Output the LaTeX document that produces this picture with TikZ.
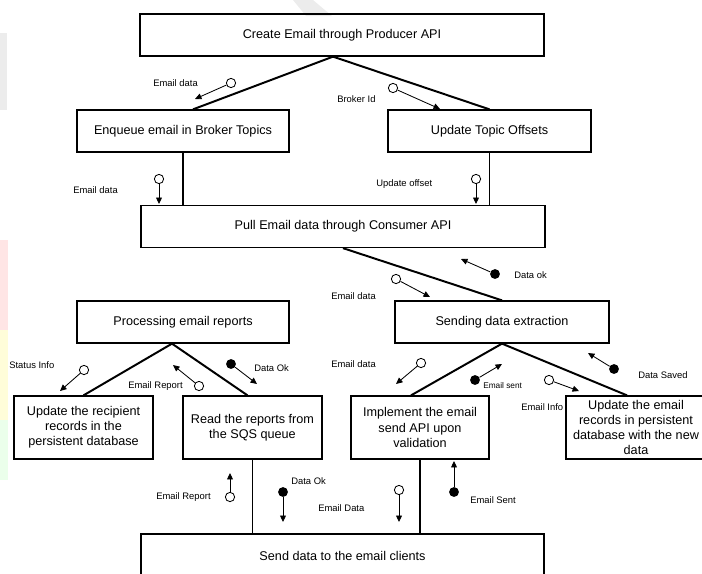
\documentclass[tikz,border=0pt]{standalone}
\usepackage{fontspec}
\setmainfont{Liberation Sans}
\usepackage{tikz}
\usetikzlibrary{calc}
\usetikzlibrary{arrows.meta}

\tikzset{
  box/.style={draw,line width=0.9pt,minimum height=1.05cm,inner sep=1pt,align=center,font=\fontsize{9}{10.8}\selectfont},
  tallbox/.style={box,minimum width=3.475cm,minimum height=1.575cm},
  link/.style={line width=1.4pt},
  flow/.style={line width=0.6pt,-{Triangle[length=4.6pt,width=4.2pt]}},
  opendot/.style={circle,draw,line width=0.6pt,fill=white,minimum size=6.6pt,inner sep=0pt},
  fulldot/.style={circle,fill=black,minimum size=7pt,inner sep=0pt},
  lbl/.style={anchor=west,inner sep=0pt,font=\fontsize{6.7}{8}\selectfont},
  tinylbl/.style={lbl,font=\fontsize{5.9}{7}\selectfont},
}

\begin{document}
\begin{tikzpicture}[x=0.025cm,y=-0.025cm]
      \clip (0,0) rectangle (702,573);
      % faint marks behind the chart
      \fill[gray!15] (293,0) -- (313,0) -- (332,16) -- (306,16) -- cycle;
      \fill[gray!15] (0,33) rectangle (7,110);
      \fill[red!10] (0,240) rectangle (8,330);
      \fill[yellow!15] (0,330) rectangle (8,420);
      \fill[green!8] (0,420) rectangle (8,480);

      \node[box,minimum width=10.1cm] (create) at (342,35) {Create Email through Producer API};
      \node[box,minimum width=5.3cm] (enqueue) at (183,131) {Enqueue email in Broker Topics};
      \node[box,minimum width=5.075cm] (offsets) at (489.5,131) {Update Topic Offsets};
      \node[box,minimum width=10.1cm] (pull) at (343,226.5) {Pull Email data through Consumer API};
      \node[box,minimum width=5.3cm] (processing) at (183,322) {Processing email reports};
      \node[box,minimum width=5.35cm] (sending) at (502,322) {Sending data extraction};
      \node[tallbox] (recipient) at (83.5,427.5) {Update the recipient\\records in the\\persistent database};
      \node[tallbox] (readsqs) at (252.5,427.5) {Read the reports from\\the SQS queue};
      \node[tallbox,minimum width=3.45cm] (implement) at (420,427.5) {Implement the email\\send API upon\\validation};
      \node[tallbox,minimum width=3.5cm] (emailrec) at (636,427.5) {Update the email\\records in persistent\\database with the new\\data};
      \node[box,minimum width=10.075cm,minimum height=1.075cm] (send) at (342.5,555.5) {Send data to the email clients};

      \draw[link] ($(create.south)+(-9,0)$) -- ($(enqueue.north)+(10,0)$);
      \draw[link] ($(create.south)+(-9,0)$) -- (offsets.north);
      \draw[link] (enqueue.south) -- (enqueue.south |- pull.north);
      \draw[link] (offsets.south) -- (offsets.south |- pull.north);
      \draw[link] (pull.south) -- (sending.north);
      \draw[link] ($(processing.south)+(-11,0)$) -- (recipient.north);
      \draw[link] ($(processing.south)+(-11,0)$) -- ($(readsqs.north)+(-5,0)$);
      \draw[link] (sending.south) -- ($(implement.north)+(-9,0)$);
      \draw[link] (sending.south) -- ($(emailrec.north)+(-9,0)$);
      \draw[link] (readsqs.south) -- (readsqs.south |- send.north);
      \draw[link] (implement.south) -- (implement.south |- send.north);

      % messages
      \node[opendot] (m1) at (231,83) {};
      \draw[flow] (m1) -- (195,99) coordinate (t1);
      \node[lbl] (l1) at (153,83) {Email data};

      \node[opendot] (m2) at (393,88) {};
      \draw[flow] (m2) -- (440,109) coordinate (t2);
      \node[lbl] (l2) at (337,99) {Broker Id};

      \node[opendot] (m3) at (159,179) {};
      \draw[flow] (m3) -- (159,204) coordinate (t3);
      \node[lbl] (l3) at (73,190) {Email data};

      \node[opendot] (m4) at (476,179) {};
      \draw[flow] (m4) -- (476,204) coordinate (t4);
      \node[lbl] (l4) at (376,184) {Update offset};

      \node[fulldot] (m5) at (495,274) {};
      \draw[flow] (m5) -- (461,259) coordinate (t5);
      \node[lbl] (l5) at (514,275) {Data ok};

      \node[opendot] (m6) at (396,279) {};
      \draw[flow] (m6) -- (430,297) coordinate (t6);
      \node[lbl] (l6) at (331,296) {Email data};

      \node[opendot] (m7) at (84,370) {};
      \draw[flow] (m7) -- (60,391) coordinate (t7);
      \node[lbl] (l7) at (9,365) {Status Info};

      \node[opendot] (m8) at (199,386) {};
      \draw[flow] (m8) -- (173,365) coordinate (t8);
      \node[lbl] (l8) at (128,386) {Email Report};

      \node[fulldot] (m9) at (231,364) {};
      \draw[flow] (m9) -- (257,384) coordinate (t9);
      \node[lbl] (l9) at (254,368) {Data Ok};

      \node[opendot] (m10) at (421,363) {};
      \draw[flow] (m10) -- (396,384) coordinate (t10);
      \node[lbl] (l10) at (331,364) {Email data};

      \node[fulldot] (m11) at (475,380) {};
      \draw[flow] (m11) -- (502,364) coordinate (t11);
      \node[tinylbl] (l11) at (483,386) {Email sent};

      \node[opendot] (m12) at (549,380) {};
      \draw[flow] (m12) -- (579,391) coordinate (t12);
      \node[lbl] (l12) at (521,407) {Email Info};

      \node[fulldot] (m13) at (614,369) {};
      \draw[flow] (m13) -- (588,353) coordinate (t13);
      \node[lbl] (l13) at (638,375) {Data Saved};

      \node[opendot] (m14) at (230,497) {};
      \draw[flow] (m14) -- (230,473) coordinate (t14);
      \node[lbl] (l14) at (156,497) {Email Report};

      \node[fulldot] (m15) at (283,492) {};
      \draw[flow] (m15) -- (283,522) coordinate (t15);
      \node[lbl] (l15) at (291,481) {Data Ok};

      \node[opendot] (m16) at (399,490) {};
      \draw[flow] (m16) -- (399,522) coordinate (t16);
      \node[lbl] (l16) at (318,508) {Email Data};

      \node[fulldot] (m17) at (454,492) {};
      \draw[flow] (m17) -- (454,461) coordinate (t17);
      \node[lbl] (l17) at (470,500) {Email Sent};
    \end{tikzpicture}
\end{document}
